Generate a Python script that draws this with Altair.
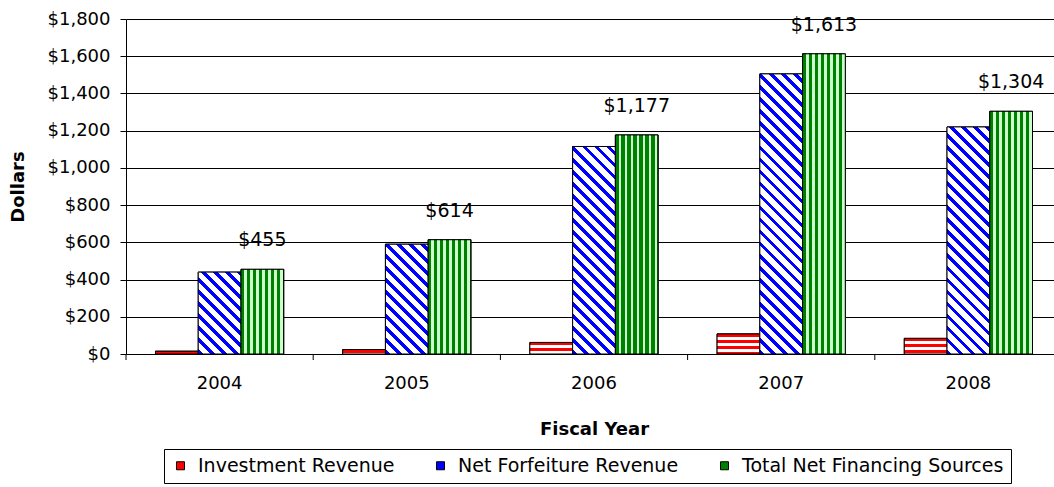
import math
import altair as alt
import pandas as pd

years = ["2004", "2005", "2006", "2007", "2008"]
series = ["Investment Revenue", "Net Forfeiture Revenue", "Total Net Financing Sources"]
investment = [15, 24, 62, 108, 84]
net_forfeiture = [440, 590, 1115, 1505, 1220]
total = [455, 614, 1177, 1613, 1304]
y_ticks = [0, 200, 400, 600, 800, 1000, 1200, 1400, 1600, 1800]

rows = []
for i, yr in enumerate(years):
    rows.append({"year": yr, "series": series[0], "value": investment[i]})
    rows.append({"year": yr, "series": series[1], "value": net_forfeiture[i]})
    rows.append({"year": yr, "series": series[2], "value": total[i]})
df = pd.DataFrame(rows)
labels_df = df[df.series == series[2]]
edges_df = pd.DataFrame({"year": years})

# layout (styling only)
VIEW_W, PLOT_H, YMAX = 928, 335, 1800
RANGE_W = 936          # category axis runs slightly past the right edge (cropped)
PO = 0.69
BAR_W = (RANGE_W / len(years)) / (3 + 2 * PO)
FONT = "DejaVu Sans"


def stripes(length, period, frac, c_on, c_off):
    stops = []
    pos = 0.0
    length = max(length, 0.5)
    while pos < length:
        a1 = pos + period * frac
        a2 = pos + period
        for off, c in [(pos, c_on), (a1, c_on), (a1, c_off), (a2, c_off)]:
            stops.append({"offset": min(max(off / length, 0.0), 1.0), "color": c})
        pos += period
    return stops


def red_grad(v):
    h = v * PLOT_H / YMAX
    return {"gradient": "linear", "x1": 0, "y1": 0, "x2": 0, "y2": 1,
            "stops": stripes(h, 6, 0.5, "#ff0000", "#ffffff")}


def blue_grad(v):
    w = BAR_W
    h = v * PLOT_H / YMAX
    d = w * w + h * h
    s = (w + h) * w / d
    y2 = (w * w - w * h) / d
    L = (w + h) / math.sqrt(2)
    return {"gradient": "linear", "x1": 0, "y1": 1, "x2": s, "y2": y2,
            "stops": stripes(L, 8.5, 0.4, "#0000ff", "#ffffff")}


def green_grad():
    return {"gradient": "linear", "x1": 0, "y1": 0, "x2": 1, "y2": 0,
            "stops": stripes(BAR_W, 6, 0.55, "#008000", "#ccffcc")}


conds = []
for i, yr in enumerate(years):
    conds.append({"test": f"datum.year === '{yr}' && datum.series === '{series[0]}'",
                  "value": red_grad(investment[i])})
    conds.append({"test": f"datum.year === '{yr}' && datum.series === '{series[1]}'",
                  "value": blue_grad(net_forfeiture[i])})
conds.append({"test": f"datum.series === '{series[2]}'", "value": green_grad()})

x_axis = alt.Axis(labelAngle=0, ticks=False, tickSize=0, labelPadding=20,
                  titlePadding=28, domainColor="black", grid=False,
                  labelFont=FONT, labelFontSize=18, labelColor="black",
                  titleFont=FONT, titleFontSize=18, titleFontWeight="bold", titleColor="black")
y_axis = alt.Axis(values=y_ticks, format="$,.0f", tickSize=6, tickColor="black",
                  domainColor="black", gridColor="black", gridWidth=1, gridOpacity=1,
                  labelPadding=10, titlePadding=20, labelOverlap=False,
                  labelFont=FONT, labelFontSize=18, labelColor="black",
                  titleFont=FONT, titleFontSize=18, titleFontWeight="bold", titleColor="black")
x_scale = alt.Scale(paddingInner=0, paddingOuter=0, range=[0, RANGE_W])
y_scale = alt.Scale(domain=[0, YMAX], nice=False)


def X(**kw):
    return alt.X("year:N", sort=years, title="Fiscal Year", scale=x_scale, axis=x_axis, **kw)


def Y():
    return alt.Y("value:Q", title="Dollars", scale=y_scale, axis=y_axis)


def XO():
    return alt.XOffset("series:N", sort=series,
                       scale=alt.Scale(paddingOuter=PO, paddingInner=0))


base = alt.Chart(df)

solid = base.mark_bar(stroke="black", strokeWidth=1).encode(
    x=X(), y=Y(), xOffset=XO(),
    color=alt.Color("series:N", sort=series,
                    scale=alt.Scale(domain=series, range=["#ff0000", "#0000ff", "#008000"]),
                    legend=alt.Legend(title=None, orient="none", legendX=38, legendY=430,
                                      direction="horizontal")),
)

patterned = base.mark_bar(stroke="black", strokeWidth=1).encode(
    x=X(), y=Y(), xOffset=XO(),
    fill={"condition": conds, "value": "white"},
)

texts = alt.Chart(labels_df).mark_text(font=FONT, fontSize=19, baseline="middle", dy=-29,
                                       color="black").encode(
    x=X(), y=Y(), xOffset=XO(),
    text=alt.Text("value:Q", format="$,.0f"),
)

ticks = alt.Chart(edges_df).mark_rule(color="black", strokeWidth=1).encode(
    x=X(bandPosition=0),
    y=alt.value(PLOT_H), y2=alt.value(PLOT_H + 6),
)

chart = alt.layer(solid, patterned, texts, ticks).properties(
    width=VIEW_W, height=PLOT_H,
    autosize=alt.AutoSizeParams(type="none"),
    padding={"left": 126, "top": 19, "right": 0, "bottom": 133},
    background="white",
).configure_view(stroke=None).configure_legend(
    labelFont=FONT, labelFontSize=19, labelColor="black", labelLimit=500,
    symbolType="square", symbolSize=64, symbolStrokeColor="black", symbolStrokeWidth=1,
    strokeColor="black", padding=7, columnPadding=36, labelOffset=8,
)

chart.save("out.html", embed_options={"renderer": "svg", "actions": False})
